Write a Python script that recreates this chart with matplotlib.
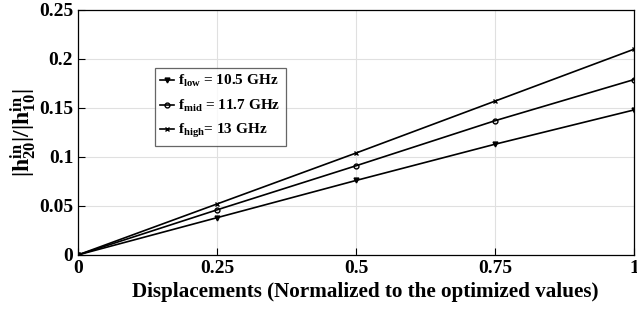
import numpy as np
import matplotlib
matplotlib.use("Agg")
import matplotlib.pyplot as plt

plt.rcParams['font.family'] = ['Liberation Serif', 'DejaVu Serif']
plt.rcParams['font.weight'] = 'bold'
plt.rcParams['mathtext.fontset'] = 'custom'
plt.rcParams['mathtext.rm'] = 'Liberation Serif:bold'
plt.rcParams['mathtext.bf'] = 'Liberation Serif:bold'
plt.rcParams['mathtext.it'] = 'Liberation Serif:bold'

# displacement (normalized)
disp = [0, 0.25, 0.5, 0.75, 1.0]
# |h20|/|h10| ratio per frequency
h_low = [0, 0.038, 0.076, 0.113, 0.148]
h_mid = [0, 0.046, 0.091, 0.137, 0.179]
h_high = [0, 0.052, 0.104, 0.157, 0.210]

fig = plt.figure(figsize=(6.37, 3.12), dpi=100)
ax = fig.add_axes([0.1225, 0.183, 0.873, 0.785])

ax.plot(disp, h_low, 'k-v', ms=3.5, lw=1.2, label=r'$\mathbf{f_{low}}$ = 10.5 GHz')
ax.plot(disp, h_mid, 'k-o', ms=3.5, lw=1.2, mfc='none', label=r'$\mathbf{f_{mid}}$ = 11.7 GHz')
ax.plot(disp, h_high, 'k-x', ms=3.5, lw=1.2, label=r'$\mathbf{f_{high}}$= 13 GHz')

ax.set_xlim(0, 1)
ax.set_ylim(0, 0.25)
ax.set_xticks([0, 0.25, 0.5, 0.75, 1])
ax.set_xticklabels(['0', '0.25', '0.5', '0.75', '1'])
ax.set_yticks([0, 0.05, 0.1, 0.15, 0.2, 0.25])
ax.set_yticklabels(['0', '0.05', '0.1', '0.15', '0.2', '0.25'])
ax.tick_params(direction='in', labelsize=14, length=5, width=0.8)
ax.grid(True, color='#e0e0e0', lw=0.8)
for s in ax.spines.values():
    s.set_linewidth(0.9)

ax.set_xlabel('Displacements (Normalized to the optimized values)', fontsize=15.2, fontweight='bold', labelpad=1)
ax.xaxis.set_label_coords(0.516, -0.11)
ax.set_ylabel(r'$\mathbf{|h^{in}_{20}|/|h^{in}_{10}|}$', fontsize=17, labelpad=0)

leg = ax.legend(loc='upper left', bbox_to_anchor=(0.138, 0.763), fontsize=11, frameon=True,
                fancybox=False, edgecolor='#404040', handlelength=0.9, handletextpad=0.3,
                borderpad=0.35, labelspacing=0.55, borderaxespad=0)
leg.get_frame().set_linewidth(0.9)

fig.savefig('out.png', dpi=100)
